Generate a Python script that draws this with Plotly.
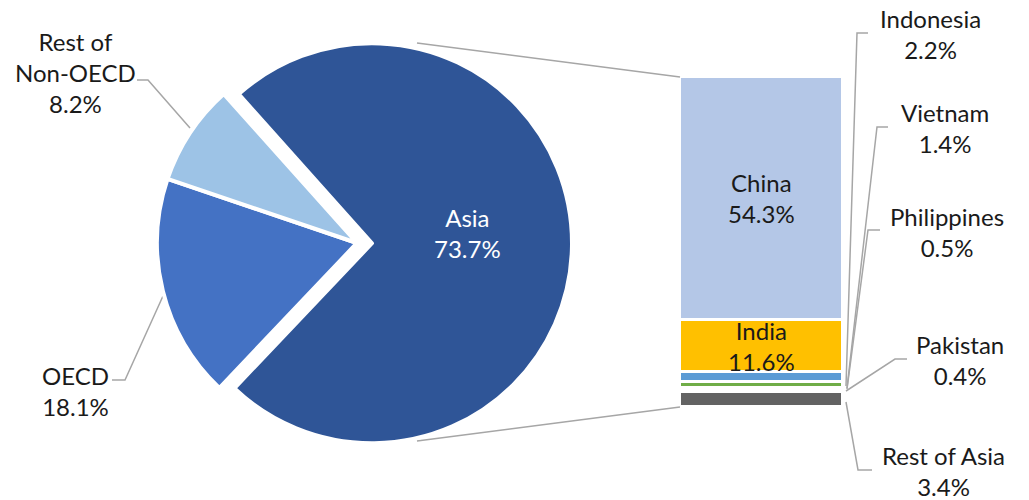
import plotly.graph_objects as go

W, H = 1029, 500

# ---- data ----
pie_labels = ["Asia", "OECD", "Rest of<br>Non-OECD"]
pie_values = [73.7, 18.1, 8.2]
pie_colors = ["#2F5597", "#4472C4", "#9DC3E6"]

bar_labels = ["Rest of Asia", "Pakistan", "Philippines", "Vietnam", "Indonesia", "India", "China"]
bar_values = [3.4, 0.4, 0.5, 1.4, 2.2, 11.6, 54.3]
bar_colors = ["#636363", "#9E480E", "#264478", "#70AD47", "#5B9BD5", "#FFC000", "#B4C7E7"]

FONT = "Lato"
TXT = "#1a1a1a"
GRAY = "#A6A6A6"


def px(x):
    return x / W


def py(y):
    return 1 - y / H


fig = go.Figure()

# pie
pie_cx, pie_cy, pie_r, pull = 357, 243, 200, 0.075
half = pie_r * (1 + pull)
fig.add_trace(go.Pie(
    labels=pie_labels, values=pie_values, sort=False, direction="clockwise",
    rotation=-41.8, pull=[pull, 0, 0],
    marker=dict(colors=pie_colors, line=dict(color="white", width=4)),
    textinfo="none", hoverinfo="label+percent", showlegend=False,
    domain=dict(x=[px(pie_cx - half), px(pie_cx + half)],
                y=[py(pie_cy + half), py(pie_cy - half)]),
))

# stacked bar
bx0, bx1, by0, by1 = 680, 843, 77, 407
for lab, val, col in zip(bar_labels, bar_values, bar_colors):
    fig.add_trace(go.Bar(
        x=[0], y=[val], name=lab, width=1,
        marker=dict(color=col, line=dict(color="white", width=3)),
        xaxis="x", yaxis="y", showlegend=False, hoverinfo="name+y",
    ))

total = sum(bar_values)
fig.update_layout(
    width=W, height=H, margin=dict(l=0, r=0, t=0, b=0),
    paper_bgcolor="white", plot_bgcolor="rgba(0,0,0,0)",
    barmode="stack", bargap=0,
    xaxis=dict(domain=[px(bx0), px(bx1)], range=[-0.5, 0.5], visible=False),
    yaxis=dict(domain=[py(by1), py(by0)], range=[0, total], visible=False),
    font=dict(family=FONT, size=24, color=TXT),
)


def label(x, y, text, color=TXT, **kw):
    fig.add_annotation(x=x, y=y, text=text, showarrow=False,
                       xanchor="center", yanchor="middle",
                       font=dict(family=FONT, size=24, color=color), **kw)


# in-bar labels
cum = 0
for lab, val in zip(bar_labels, bar_values):
    if lab in ("China", "India"):
        label(0, cum + val / 2, f"{lab}<br>{val}%", xref="x", yref="y")
    cum += val

# pie labels
label(px(467), py(233), f"{pie_labels[0]}<br>{pie_values[0]}%", color="white",
      xref="paper", yref="paper")
label(px(75), py(72), f"Rest of<br>Non-OECD<br>{pie_values[2]}%", xref="paper", yref="paper")
label(px(75), py(391), f"{pie_labels[1]}<br>{pie_values[1]}%", xref="paper", yref="paper")

# outside bar labels
out_pos = {"Indonesia": (930, 34), "Vietnam": (945, 128), "Philippines": (947, 232),
           "Pakistan": (960, 360), "Rest of Asia": (943, 471)}
for lab, val in zip(bar_labels, bar_values):
    if lab in out_pos:
        x, y = out_pos[lab]
        label(px(x), py(y), f"{lab}<br>{val}%", xref="paper", yref="paper")

# leader lines
leaders = [
    [(137, 80), (148, 80), (190, 128)],
    [(112, 380), (125, 380), (163, 296)],
    [(868, 33), (857, 33), (846, 386)],
    [(888, 127), (877, 127), (847, 388)],
    [(880, 230), (868, 230), (847, 389)],
    [(907, 359), (895, 359), (846, 391)],
    [(846, 402), (858, 470), (872, 470)],
    [(417, 43), (bx0, by0)],
    [(417, 441), (bx0, by1)],
]
for pts in leaders:
    path = "M " + " L ".join(f"{px(x)},{py(y)}" for x, y in pts)
    fig.add_shape(type="path", path=path, xref="paper", yref="paper",
                  line=dict(color=GRAY, width=1.5), layer="below")

fig.write_html("out.html")
